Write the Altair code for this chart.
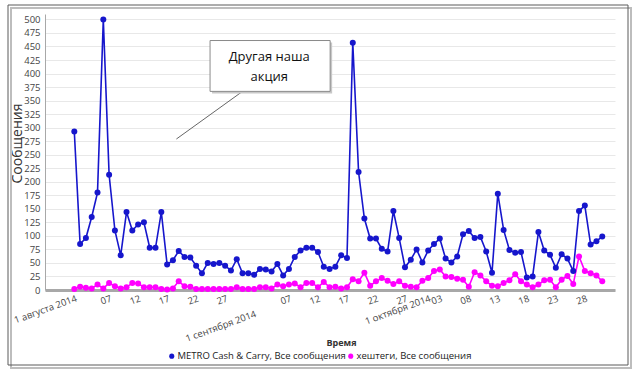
import json
import altair as alt
import pandas as pd

start_date = "2014-08-01"
metro = [293, 85, 96, 135, 180, 500, 213, 110, 64, 144,
         110, 121, 125, 78, 78, 144, 47, 55, 72, 61,
         60, 45, 31, 50, 48, 50, 45, 36, 57, 31,
         31, 28, 39, 38, 34, 48, 27, 39, 61, 73,
         78, 78, 70, 43, 39, 43, 64, 59, 457, 218,
         132, 95, 95, 76, 71, 146, 96, 42, 56, 75,
         51, 73, 85, 95, 58, 51, 62, 103, 109, 96,
         98, 71, 32, 178, 111, 74, 69, 70, 23, 25,
         107, 73, 65, 41, 66, 58, 35, 146, 156, 84,
         90, 99]
hashtags = [2, 6, 4, 3, 10, 3, 13, 7, 3, 5,
            13, 12, 5, 5, 5, 2, 1, 3, 16, 7,
            6, 2, 2, 2, 2, 2, 2, 2, 5, 2,
            2, 2, 5, 5, 3, 10, 7, 10, 12, 5,
            13, 13, 5, 15, 5, 6, 3, 5, 20, 16,
            32, 8, 16, 22, 17, 11, 16, 8, 6, 5,
            17, 22, 35, 38, 25, 24, 21, 19, 6, 33,
            27, 16, 8, 7, 13, 18, 29, 16, 10, 5,
            10, 18, 19, 5, 19, 26, 11, 62, 35, 31,
            27, 16]
series_names = ["METRO Cash & Carry, Все сообщения", "хештеги, Все сообщения"]
series_colors = ["#1616cc", "#ff00ff"]
tick_days = [0, 6, 11, 16, 21, 26, 31, 37, 42, 47, 52, 57, 61, 63, 68, 73, 78, 83, 88]
tick_labels = ["1 августа 2014", "07", "12", "17", "22", "27", "1 сентября 2014",
               "07", "12", "17", "22", "27", "1 октября 2014", "03", "08", "13", "18", "23", "28"]
y_ticks = list(range(0, 501, 25))
note_lines = ["Другая наша", "акция"]
x_title = "Время"
y_title = "Сообщения"

dates = pd.date_range(start_date, periods=len(metro), freq="D")
rows = []
for name, vals in zip(series_names, [metro, hashtags]):
    for i, (d, v) in enumerate(zip(dates, vals)):
        rows.append({"day": i, "date": d.strftime("%Y-%m-%d"), "series": name, "value": v})
df = pd.DataFrame(rows)

W, H = 570, 276
FONT = "Open Sans"

sep_day = tick_days[6]
label_expr = (
    f"datum.value == {sep_day} ? '' : "
    f"{json.dumps(tick_labels, ensure_ascii=False)}[indexof({json.dumps(tick_days)}, datum.value)]"
)

xscale = alt.Scale(domain=[-5.05, 93.2], nice=False, zero=False)
yscale = alt.Scale(domain=[0, 510], nice=False)

axis_x = alt.Axis(values=tick_days, labelExpr=label_expr, grid=False,
                  ticks=False, domainColor="#a8a8a8", domainWidth=3,
                  labelAngle=340, labelAlign="right", labelBaseline="top",
                  labelPadding=3, labelFontSize=9.5, labelColor="#444",
                  labelFont=FONT, labelOverlap=False, labelBound=False,
                  titleFont=FONT, titleFontSize=9,
                  titleFontWeight="bold", titleColor="#333",
                  titleX=296, titleY=52, titleBaseline="middle")
axis_y = alt.Axis(values=y_ticks, grid=True, gridColor="#e8e8e8",
                  ticks=False, domainColor="#a8a8a8", domainWidth=1,
                  labelFontSize=9.5, labelColor="#444", labelFont=FONT,
                  labelPadding=5, labelOverlap=False,
                  titleFont=FONT, titleFontSize=14,
                  titleFontWeight="normal", titleColor="#333",
                  titleAngle=270, titleX=-28, titleY=129,
                  titleAlign="center", titleBaseline="middle")


def X(f):
    return alt.X(f, scale=xscale, axis=axis_x, title=x_title)


def Y(f):
    return alt.Y(f, scale=yscale, axis=axis_y, title=y_title)


lines = alt.Chart(df).mark_line(
    strokeWidth=1.6,
    point=alt.OverlayMarkDef(filled=True, size=36, opacity=1),
).encode(
    x=X("day:Q"),
    y=Y("value:Q"),
    color=alt.Color("series:N",
                    scale=alt.Scale(domain=series_names, range=series_colors),
                    sort=series_names,
                    legend=alt.Legend(orient="none", legendX=122, legendY=337,
                                      direction="horizontal", title=None,
                                      symbolType="circle", symbolSize=26,
                                      labelFont=FONT, labelFontSize=9.5,
                                      labelColor="#222", columnPadding=0,
                                      labelOffset=1, symbolStrokeWidth=0,
                                      labelLimit=0)),
    order="day:Q",
)

sep_df = pd.DataFrame({"day": [sep_day], "label": [tick_labels[6]]})
sep_label = alt.Chart(sep_df).mark_text(
    angle=340, align="right", baseline="top", fontSize=9.5, color="#444", font=FONT
).encode(x=X("day:Q"), y=alt.value(H + 19), text="label:N")

# callout annotation (positioned in data units)
box_df = pd.DataFrame({"x1": [23.4], "x2": [44.1], "y1": [367], "y2": [461]})
box_shadow = alt.Chart(box_df).mark_rect(fill="#c8c8c8", xOffset=2, yOffset=2, x2Offset=2, y2Offset=2).encode(
    x=X("x1:Q"), x2=alt.X2("x2:Q", title=x_title),
    y=Y("y1:Q"), y2=alt.Y2("y2:Q", title=y_title))
box = alt.Chart(box_df).mark_rect(fill="white", stroke="#8a8a8a", strokeWidth=1).encode(
    x=X("x1:Q"), x2=alt.X2("x2:Q", title=x_title),
    y=Y("y1:Q"), y2=alt.Y2("y2:Q", title=y_title))
note_df = pd.DataFrame({"day": [33.6, 33.6], "value": [431, 393], "text": note_lines})
note = alt.Chart(note_df).mark_text(fontSize=13, font=FONT, color="#111").encode(
    x=X("day:Q"), y=Y("value:Q"), text="text:N")
ptr_df = pd.DataFrame({"x1": [29.0], "y1": [367], "x2": [17.6], "y2": [279]})
pointer = alt.Chart(ptr_df).mark_rule(color="#666", strokeWidth=1).encode(
    x=X("x1:Q"), y=Y("y1:Q"),
    x2=alt.X2("x2:Q", title=x_title), y2=alt.Y2("y2:Q", title=y_title))

frame_df = pd.DataFrame({"a": [0]})
frame_shadow = alt.Chart(frame_df).mark_rect(fill=None, stroke="#bdbdbd", strokeWidth=2).encode(
    x=alt.value(-34), x2=alt.value(W + 16), y=alt.value(-6), y2=alt.value(H + 78))
frame = alt.Chart(frame_df).mark_rect(fill=None, stroke="#5a5a5a", strokeWidth=1).encode(
    x=alt.value(-37), x2=alt.value(W + 13), y=alt.value(-9), y2=alt.value(H + 75))

chart = alt.layer(
    frame_shadow, frame, lines, sep_label, pointer, box_shadow, box, note
).properties(
    width=W, height=H,
    padding={"left": 45, "top": 14, "right": 29, "bottom": 86},
    autosize=alt.AutoSizeParams(type="none"),
    background="white",
).configure_view(stroke=None)

chart.save("out.html", embed_options={"renderer": "svg", "actions": False})
